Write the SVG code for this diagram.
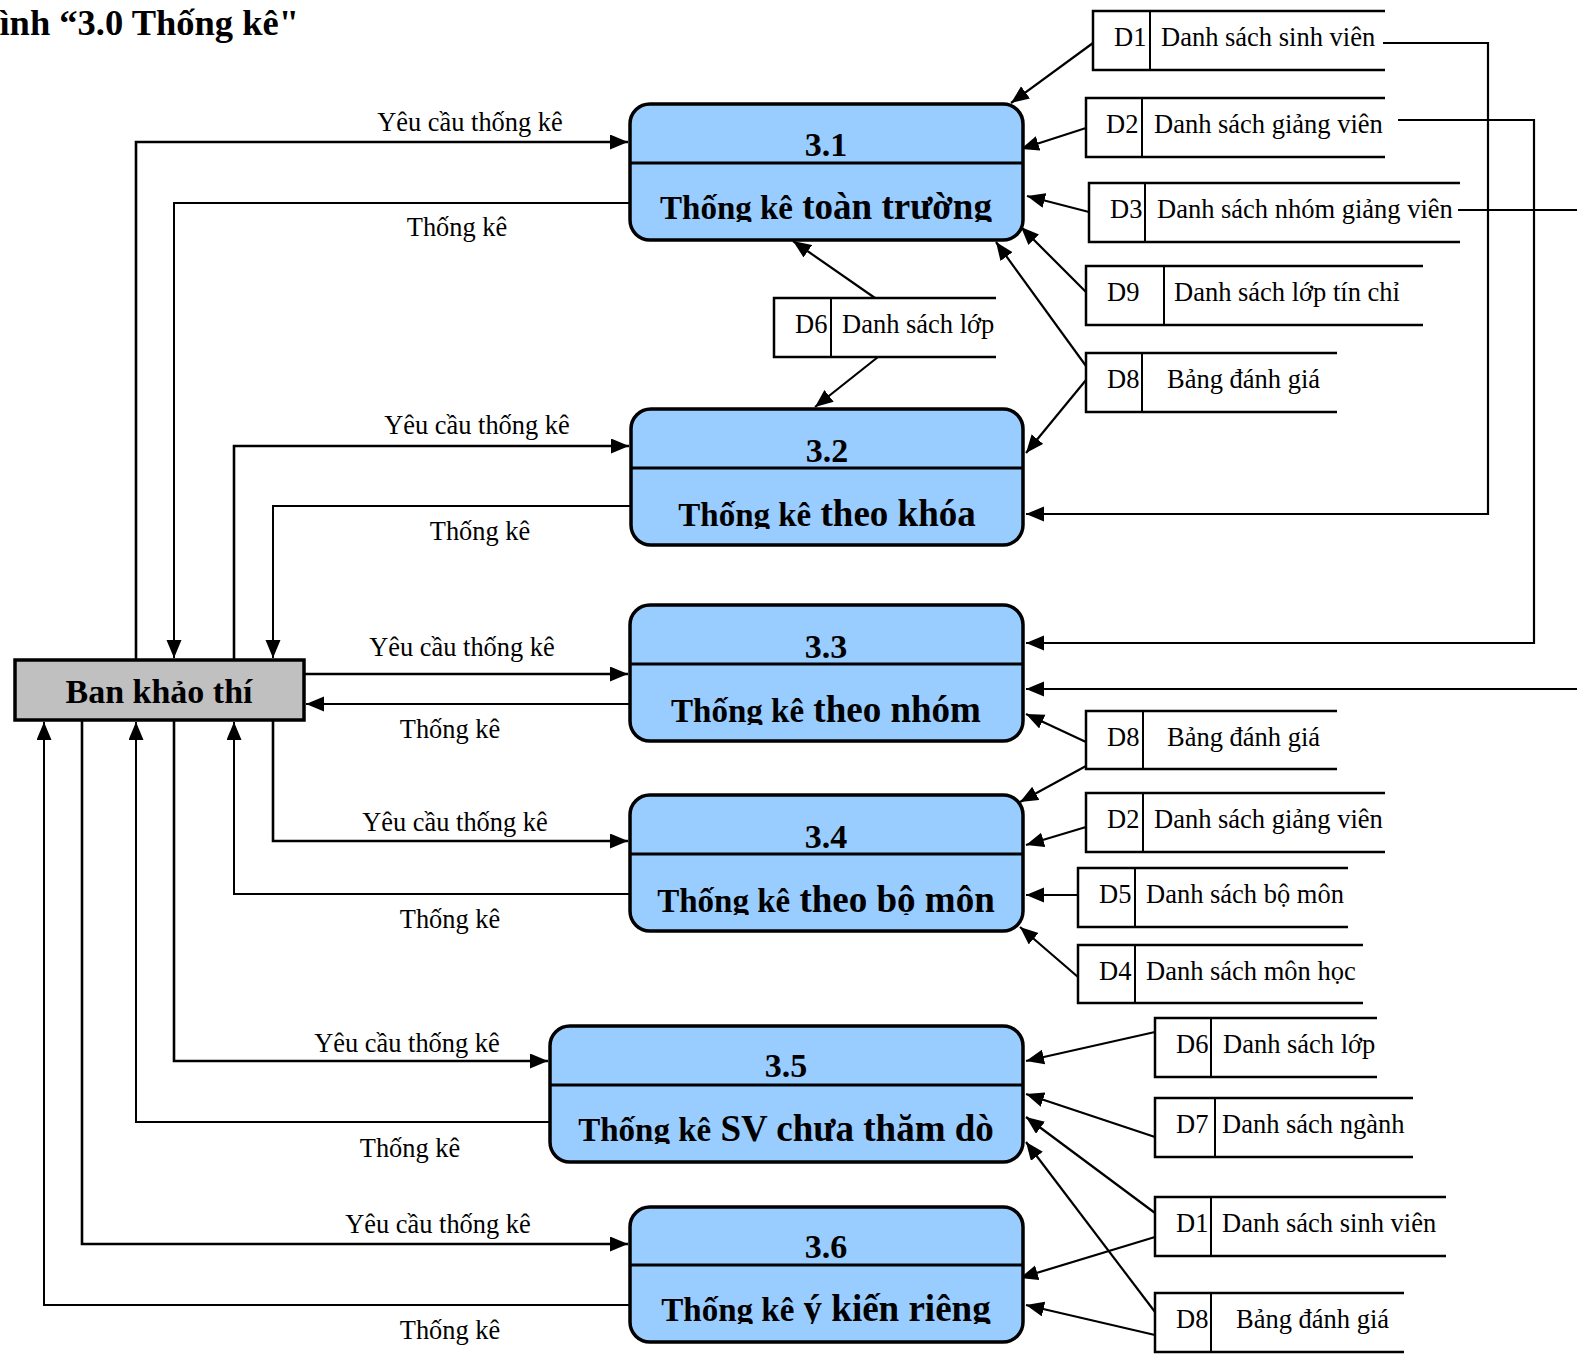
<svg xmlns="http://www.w3.org/2000/svg" width="1577" height="1356" viewBox="0 0 1577 1356">
  <style>
    .proc { fill: #99CCFF; stroke: #000; stroke-width: 3.5; }
    .div { stroke: #000; stroke-width: 3; }
    .num { font-family: "Liberation Serif", "Times New Roman", serif; font-weight: bold; font-size: 34px; text-anchor: middle; fill: #000; }
    .pname { font-family: "Liberation Serif", "Times New Roman", serif; font-weight: bold; font-size: 37px; text-anchor: middle; fill: #000; }
    .pname .sm { font-size: 33px; }
    .ent { fill: #C0C0C0; stroke: #000; stroke-width: 3.5; }
    .entt { font-family: "Liberation Serif", "Times New Roman", serif; font-weight: bold; font-size: 34px; text-anchor: middle; fill: #000; }
    .store { fill: none; stroke: #000; stroke-width: 2.5; }
    .sdiv { stroke: #000; stroke-width: 2; }
    .st { font-family: "Liberation Serif", "Times New Roman", serif; font-size: 26.5px; fill: #000; }
    .lbl { font-family: "Liberation Serif", "Times New Roman", serif; font-size: 26.4px; text-anchor: middle; fill: #000; }
    .req { fill: none; stroke: #000; stroke-width: 2.6; }
    .ret { fill: none; stroke: #000; stroke-width: 2; }
    .ds { fill: none; stroke: #000; stroke-width: 2.2; }
    .title { font-family: "Liberation Serif", "Times New Roman", serif; font-weight: bold; font-size: 36.5px; text-anchor: end; fill: #000; }
  </style>
  <defs>
    <marker id="arr" markerUnits="userSpaceOnUse" markerWidth="20" markerHeight="16" refX="18" refY="7.5" orient="auto">
      <path d="M0,0 L18,7.5 L0,15 z" fill="#000"/>
    </marker>
    <clipPath id="c31"><rect x="630" y="104" width="393" height="118"/></clipPath>
    <clipPath id="c32"><rect x="630" y="409" width="393" height="120"/></clipPath>
    <clipPath id="c33"><rect x="630" y="605" width="393" height="120"/></clipPath>
    <clipPath id="c34"><rect x="630" y="795" width="393" height="120"/></clipPath>
    <clipPath id="c35"><rect x="550" y="1026" width="473" height="118"/></clipPath>
    <clipPath id="c36"><rect x="630" y="1207" width="393" height="117"/></clipPath>
  </defs>

  <rect width="1577" height="1356" fill="#fff"/>

  <text class="title" x="299" y="35">ình “3.0 Thống kê"</text>

  <!-- connectors -->
  <g id="connectors">
    <!-- Ban khảo thí <-> 3.1 -->
    <polyline class="req" points="136,660 136,142 628,142" marker-end="url(#arr)"/>
    <polyline class="ret" points="630,203 174,203 174,658" marker-end="url(#arr)"/>
    <!-- Ban khảo thí <-> 3.2 -->
    <polyline class="req" points="234,660 234,446 629,446" marker-end="url(#arr)"/>
    <polyline class="ret" points="631,506 273,506 273,658" marker-end="url(#arr)"/>
    <!-- Ban khảo thí <-> 3.3 -->
    <polyline class="req" points="304,674 628,674" marker-end="url(#arr)"/>
    <polyline class="ret" points="630,704 306,704" marker-end="url(#arr)"/>
    <!-- Ban khảo thí <-> 3.4 -->
    <polyline class="req" points="273,720 273,841 628,841" marker-end="url(#arr)"/>
    <polyline class="ret" points="630,894 234,894 234,722" marker-end="url(#arr)"/>
    <!-- Ban khảo thí <-> 3.5 -->
    <polyline class="req" points="174,720 174,1061 548,1061" marker-end="url(#arr)"/>
    <polyline class="ret" points="550,1122 136,1122 136,722" marker-end="url(#arr)"/>
    <!-- Ban khảo thí <-> 3.6 -->
    <polyline class="req" points="82,720 82,1244 628,1244" marker-end="url(#arr)"/>
    <polyline class="ret" points="630,1305 44,1305 44,722" marker-end="url(#arr)"/>

    <text class="lbl" x="470" y="131">Yêu cầu thống kê</text>
    <text class="lbl" x="457" y="236">Thống kê</text>
    <text class="lbl" x="477" y="434">Yêu cầu thống kê</text>
    <text class="lbl" x="480" y="540">Thống kê</text>
    <text class="lbl" x="462" y="656">Yêu cầu thống kê</text>
    <text class="lbl" x="450" y="738">Thống kê</text>
    <text class="lbl" x="455" y="831">Yêu cầu thống kê</text>
    <text class="lbl" x="450" y="928">Thống kê</text>
    <text class="lbl" x="407" y="1052">Yêu cầu thống kê</text>
    <text class="lbl" x="410" y="1157">Thống kê</text>
    <text class="lbl" x="438" y="1233">Yêu cầu thống kê</text>
    <text class="lbl" x="450" y="1339">Thống kê</text>

    <!-- data stores -> 3.1 -->
    <line class="ds" x1="1093" y1="43" x2="1011" y2="103" marker-end="url(#arr)"/>
    <line class="ds" x1="1086" y1="128" x2="1021" y2="149" marker-end="url(#arr)"/>
    <line class="ds" x1="1089" y1="212" x2="1027" y2="196" marker-end="url(#arr)"/>
    <line class="ds" x1="1086" y1="292" x2="1021" y2="227" marker-end="url(#arr)"/>
    <line class="ds" x1="1086" y1="366" x2="996" y2="242" marker-end="url(#arr)"/>
    <line class="ds" x1="875" y1="298" x2="793" y2="241" marker-end="url(#arr)"/>
    <!-- data stores -> 3.2 -->
    <line class="ds" x1="878" y1="357" x2="815" y2="407" marker-end="url(#arr)"/>
    <line class="ds" x1="1086" y1="380" x2="1026" y2="453" marker-end="url(#arr)"/>
    <polyline class="ds" points="1383,43 1488,43 1488,514 1026,514" marker-end="url(#arr)"/>
    <!-- data stores -> 3.3 -->
    <polyline class="ds" points="1398,120 1534,120 1534,643 1026,643" marker-end="url(#arr)"/>
    <line class="ds" x1="1458" y1="210" x2="1577" y2="210"/>
    <line class="ds" x1="1577" y1="689" x2="1026" y2="689" marker-end="url(#arr)"/>
    <line class="ds" x1="1086" y1="742" x2="1026" y2="714" marker-end="url(#arr)"/>
    <!-- data stores -> 3.4 -->
    <line class="ds" x1="1086" y1="766" x2="1020" y2="802" marker-end="url(#arr)"/>
    <line class="ds" x1="1086" y1="827" x2="1026" y2="845" marker-end="url(#arr)"/>
    <line class="ds" x1="1078" y1="895" x2="1026" y2="895" marker-end="url(#arr)"/>
    <line class="ds" x1="1078" y1="977" x2="1020" y2="927" marker-end="url(#arr)"/>
    <!-- data stores -> 3.5 -->
    <line class="ds" x1="1155" y1="1032" x2="1026" y2="1061" marker-end="url(#arr)"/>
    <line class="ds" x1="1155" y1="1137" x2="1026" y2="1094" marker-end="url(#arr)"/>
    <line class="ds" x1="1155" y1="1213" x2="1026" y2="1117" marker-end="url(#arr)"/>
    <line class="ds" x1="1155" y1="1312" x2="1026" y2="1142" marker-end="url(#arr)"/>
    <!-- data stores -> 3.6 -->
    <line class="ds" x1="1155" y1="1237" x2="1020" y2="1278" marker-end="url(#arr)"/>
    <line class="ds" x1="1155" y1="1335" x2="1026" y2="1305" marker-end="url(#arr)"/>
  </g>

  <!-- external entity -->
  <g id="ban-khao-thi">
    <rect class="ent" x="15" y="660" width="289" height="60"/>
    <text class="entt" x="159" y="703">Ban khảo thí</text>
  </g>

  <!-- processes -->
  <g id="p31">
    <rect class="proc" x="630" y="104" width="393" height="136" rx="20"/>
    <line class="div" x1="630" y1="163" x2="1023" y2="163"/>
    <text class="num" x="826" y="156">3.1</text>
    <text class="pname" x="826" y="219" clip-path="url(#c31)"><tspan class="sm">Thống kê</tspan> toàn trường</text>
  </g>
  <g id="p32">
    <rect class="proc" x="631" y="409" width="392" height="136" rx="20"/>
    <line class="div" x1="631" y1="468" x2="1023" y2="468"/>
    <text class="num" x="827" y="462">3.2</text>
    <text class="pname" x="827" y="526" clip-path="url(#c32)"><tspan class="sm">Thống kê</tspan> theo khóa</text>
  </g>
  <g id="p33">
    <rect class="proc" x="630" y="605" width="393" height="136" rx="20"/>
    <line class="div" x1="630" y1="664" x2="1023" y2="664"/>
    <text class="num" x="826" y="658">3.3</text>
    <text class="pname" x="826" y="722" clip-path="url(#c33)"><tspan class="sm">Thống kê</tspan> theo nhóm</text>
  </g>
  <g id="p34">
    <rect class="proc" x="630" y="795" width="393" height="136" rx="20"/>
    <line class="div" x1="630" y1="854" x2="1023" y2="854"/>
    <text class="num" x="826" y="848">3.4</text>
    <text class="pname" x="826" y="912" clip-path="url(#c34)"><tspan class="sm">Thống kê</tspan> theo bộ môn</text>
  </g>
  <g id="p35">
    <rect class="proc" x="550" y="1026" width="473" height="136" rx="20"/>
    <line class="div" x1="550" y1="1085" x2="1023" y2="1085"/>
    <text class="num" x="786" y="1077">3.5</text>
    <text class="pname" x="786" y="1141" clip-path="url(#c35)"><tspan class="sm">Thống kê</tspan> SV chưa thăm dò</text>
  </g>
  <g id="p36">
    <rect class="proc" x="630" y="1207" width="393" height="135" rx="20"/>
    <line class="div" x1="630" y1="1265" x2="1023" y2="1265"/>
    <text class="num" x="826" y="1258">3.6</text>
    <text class="pname" x="826" y="1321" clip-path="url(#c36)"><tspan class="sm">Thống kê</tspan> ý kiến riêng</text>
  </g>

  <!-- data stores -->
  <g id="d1-a">
    <path class="store" d="M1385,11 H1093 V70 H1385"/>
    <line class="sdiv" x1="1150" y1="11" x2="1150" y2="70"/>
    <text class="st" x="1114" y="46">D1</text>
    <text class="st" x="1161" y="46">Danh sách sinh viên</text>
  </g>
  <g id="d2-a">
    <path class="store" d="M1385,98 H1086 V157 H1385"/>
    <line class="sdiv" x1="1142" y1="98" x2="1142" y2="157"/>
    <text class="st" x="1106" y="133">D2</text>
    <text class="st" x="1154" y="133">Danh sách giảng viên</text>
  </g>
  <g id="d3">
    <path class="store" d="M1460,183 H1089 V242 H1460"/>
    <line class="sdiv" x1="1145" y1="183" x2="1145" y2="242"/>
    <text class="st" x="1110" y="218">D3</text>
    <text class="st" x="1157" y="218">Danh sách nhóm giảng viên</text>
  </g>
  <g id="d9">
    <path class="store" d="M1423,266 H1086 V325 H1423"/>
    <line class="sdiv" x1="1164" y1="266" x2="1164" y2="325"/>
    <text class="st" x="1107" y="301">D9</text>
    <text class="st" x="1174" y="301">Danh sách lớp tín chỉ</text>
  </g>
  <g id="d8-a">
    <path class="store" d="M1337,353 H1086 V412 H1337"/>
    <line class="sdiv" x1="1142" y1="353" x2="1142" y2="412"/>
    <text class="st" x="1107" y="388">D8</text>
    <text class="st" x="1167" y="388">Bảng đánh giá</text>
  </g>
  <g id="d6-a">
    <path class="store" d="M996,298 H774 V357 H996"/>
    <line class="sdiv" x1="831" y1="298" x2="831" y2="357"/>
    <text class="st" x="795" y="333">D6</text>
    <text class="st" x="842" y="333">Danh sách lớp</text>
  </g>
  <g id="d8-b">
    <path class="store" d="M1337,711 H1086 V769 H1337"/>
    <line class="sdiv" x1="1143" y1="711" x2="1143" y2="769"/>
    <text class="st" x="1107" y="746">D8</text>
    <text class="st" x="1167" y="746">Bảng đánh giá</text>
  </g>
  <g id="d2-b">
    <path class="store" d="M1385,793 H1086 V852 H1385"/>
    <line class="sdiv" x1="1143" y1="793" x2="1143" y2="852"/>
    <text class="st" x="1107" y="828">D2</text>
    <text class="st" x="1154" y="828">Danh sách giảng viên</text>
  </g>
  <g id="d5">
    <path class="store" d="M1348,868 H1078 V927 H1348"/>
    <line class="sdiv" x1="1135" y1="868" x2="1135" y2="927"/>
    <text class="st" x="1099" y="903">D5</text>
    <text class="st" x="1146" y="903">Danh sách bộ môn</text>
  </g>
  <g id="d4">
    <path class="store" d="M1363,945 H1078 V1003 H1363"/>
    <line class="sdiv" x1="1135" y1="945" x2="1135" y2="1003"/>
    <text class="st" x="1099" y="980">D4</text>
    <text class="st" x="1146" y="980">Danh sách môn học</text>
  </g>
  <g id="d6-b">
    <path class="store" d="M1377,1018 H1155 V1077 H1377"/>
    <line class="sdiv" x1="1211" y1="1018" x2="1211" y2="1077"/>
    <text class="st" x="1176" y="1053">D6</text>
    <text class="st" x="1223" y="1053">Danh sách lớp</text>
  </g>
  <g id="d7">
    <path class="store" d="M1413,1098 H1155 V1157 H1413"/>
    <line class="sdiv" x1="1215" y1="1098" x2="1215" y2="1157"/>
    <text class="st" x="1176" y="1133">D7</text>
    <text class="st" x="1222" y="1133">Danh sách ngành</text>
  </g>
  <g id="d1-b">
    <path class="store" d="M1446,1197 H1155 V1256 H1446"/>
    <line class="sdiv" x1="1211" y1="1197" x2="1211" y2="1256"/>
    <text class="st" x="1176" y="1232">D1</text>
    <text class="st" x="1222" y="1232">Danh sách sinh viên</text>
  </g>
  <g id="d8-c">
    <path class="store" d="M1404,1293 H1155 V1352 H1404"/>
    <line class="sdiv" x1="1211" y1="1293" x2="1211" y2="1352"/>
    <text class="st" x="1176" y="1328">D8</text>
    <text class="st" x="1236" y="1328">Bảng đánh giá</text>
  </g>
</svg>
